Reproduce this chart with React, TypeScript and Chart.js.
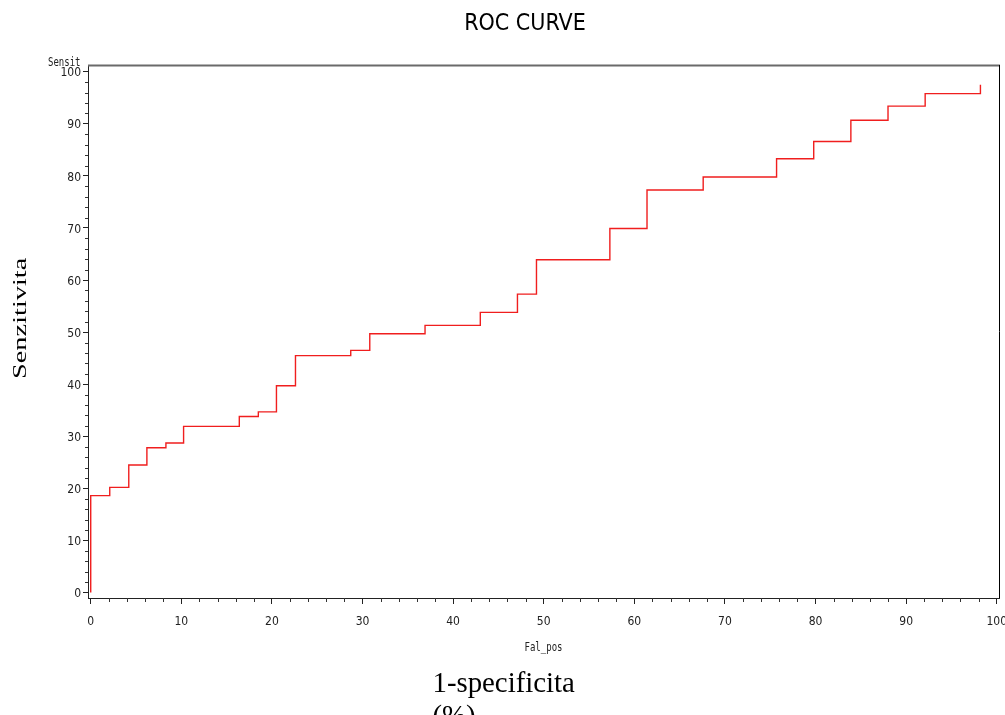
import React, { useEffect, useRef } from "react";
import { Chart, registerables } from "chart.js";

Chart.register(...registerables);

// ROC curve data (false-positive % vs sensitivity %)
const falPos = [0, 0, 2.1, 4.2, 6.2, 8.3, 10.25, 16.4, 18.5, 20.5, 22.6, 28.7, 30.8, 36.9, 43.0, 47.1, 49.2, 57.3, 61.4, 67.6, 75.7, 79.8, 83.9, 88.0, 92.1, 98.2];
const sensit = [0, 18.6, 20.2, 24.5, 27.8, 28.7, 31.9, 33.8, 34.7, 39.7, 45.5, 46.5, 49.7, 51.3, 53.8, 57.3, 63.9, 69.9, 77.3, 79.8, 83.3, 86.6, 90.7, 93.4, 95.8, 97.5];

const majorTicks = [0, 10, 20, 30, 40, 50, 60, 70, 80, 90, 100];
const minorTicks = [2, 4, 6, 8, 12, 14, 16, 18, 22, 24, 26, 28, 32, 34, 36, 38, 42, 44, 46, 48, 52, 54, 56, 58, 62, 64, 66, 68, 72, 74, 76, 78, 82, 84, 86, 88, 92, 94, 96, 98];

const titleText = "ROC CURVE";
const yVarLabel = "Sensit";
const xVarLabel = "Fal_pos";
const yOuterLabel = "Senzitivita";
const xOuterLabel = ["1-specificita", "(%)"];

const NARROW = "'DejaVu Sans Condensed','Liberation Sans Narrow',sans-serif";
const MONO = "'DejaVu Sans Mono','Liberation Mono',monospace";
const SERIF = "'Liberation Serif','Times New Roman',serif";

export default function App() {
  const ref = useRef<HTMLCanvasElement>(null);

  useEffect(() => {
    const canvas = ref.current;
    if (!canvas) return;
    const points = falPos.map((x, i) => ({ x, y: sensit[i] }));

    const drawNarrow = (c: CanvasRenderingContext2D, text: string, x: number, y: number, sx: number, align: "left" | "right" | "center") => {
      c.save();
      c.translate(x, y);
      c.scale(sx, 1);
      c.textAlign = align;
      c.fillText(text, 0, 0);
      c.restore();
    };

    const decor = {
      id: "decor",
      afterDraw(chart: any) {
        const c = chart.ctx as CanvasRenderingContext2D;
        const a = chart.chartArea;
        const xs = chart.scales.x;
        const ys = chart.scales.y;
        c.save();
        // top and right frame
        c.strokeStyle = "#6a6a6a";
        c.lineWidth = 2;
        c.beginPath();
        c.moveTo(a.left, a.top + 0.5);
        c.lineTo(a.right + 1, a.top + 0.5);
        c.stroke();
        c.strokeStyle = "#000";
        c.lineWidth = 1;
        c.beginPath();
        c.moveTo(a.right + 0.5, a.top);
        c.lineTo(a.right + 0.5, a.bottom);
        c.stroke();
        // minor ticks
        c.strokeStyle = "#333";
        c.lineWidth = 1;
        c.beginPath();
        minorTicks.forEach((v) => {
          const py = Math.round(ys.getPixelForValue(v)) + 0.5;
          c.moveTo(a.left - 3, py);
          c.lineTo(a.left, py);
          const px = Math.round(xs.getPixelForValue(v)) + 0.5;
          c.moveTo(px, a.bottom);
          c.lineTo(px, a.bottom + 4);
        });
        c.stroke();
        // title
        c.fillStyle = "#000";
        c.font = `23px ${NARROW}`;
        c.textBaseline = "alphabetic";
        drawNarrow(c, titleText, 525, 30, 1, "center");
        // variable labels
        c.font = `12px ${MONO}`;
        c.fillStyle = "#222";
        drawNarrow(c, yVarLabel, 80.5, 65.5, 0.75, "right");
        drawNarrow(c, xVarLabel, (a.left + a.right) / 2, 650.5, 0.75, "center");
        // outer serif labels
        c.fillStyle = "#000";
        c.font = `28.8px ${SERIF}`;
        c.textAlign = "left";
        c.fillText(xOuterLabel[0], 432.5, 692);
        c.fillText(xOuterLabel[1], 432.5, 725);
        // rotated y label (glyphs compressed across the baseline, as in the reference)
        c.save();
        c.translate(25.5, 379);
        c.rotate(-Math.PI / 2);
        c.scale(0.985, 0.66);
        c.textAlign = "left";
        c.textBaseline = "alphabetic";
        c.fillText(yOuterLabel, 0, 0);
        c.restore();
        c.restore();
      },
    };

    const chart = new Chart(canvas, {
      type: "line",
      data: {
        datasets: [
          {
            data: points,
            borderColor: "#f01e1e",
            borderWidth: 1.4,
            pointRadius: 0,
            stepped: "before",
            fill: false,
          },
        ],
      },
      options: {
        animation: false,
        responsive: false,
        devicePixelRatio: 1,
        layout: { padding: { left: 0, right: 6, top: 65, bottom: 0 } },
        plugins: { legend: { display: false }, tooltip: { enabled: false }, title: { display: false } },
        scales: {
          x: {
            type: "linear",
            min: -0.3,
            max: 100.25,
            afterFit: (s: any) => {
              s.height = 117;
              s.paddingLeft = 0;
              s.paddingRight = 0;
            },
            afterBuildTicks: (s: any) => {
              s.ticks = majorTicks.map((v) => ({ value: v }));
            },
            border: { display: true, color: "#222", width: 1 },
            grid: { drawOnChartArea: false, drawTicks: true, tickLength: 6, color: "#222" },
            ticks: {
              font: { family: NARROW, size: 12 },
              color: "#222",
              padding: 11,
              maxRotation: 0,
              autoSkip: false,
            },
          },
          y: {
            type: "linear",
            min: -1.05,
            max: 101.3,
            afterFit: (s: any) => {
              s.width = 88;
              s.paddingTop = 0;
              s.paddingBottom = 0;
            },
            afterBuildTicks: (s: any) => {
              s.ticks = majorTicks.map((v) => ({ value: v }));
            },
            border: { display: true, color: "#222", width: 1 },
            grid: { drawOnChartArea: false, drawTicks: true, tickLength: 5, color: "#222" },
            ticks: {
              font: { family: NARROW, size: 12 },
              color: "#222",
              padding: 2,
              labelOffset: 1.5,
              autoSkip: false,
            },
          },
        },
      },
      plugins: [decor],
    } as any);

    return () => chart.destroy();
  }, []);

  return (
    <div style={{ position: "absolute", left: 0, top: 0, width: 1005, height: 715, background: "#fff" }}>
      <canvas ref={ref} width={1005} height={715} style={{ display: "block", width: 1005, height: 715 }} />
    </div>
  );
}
